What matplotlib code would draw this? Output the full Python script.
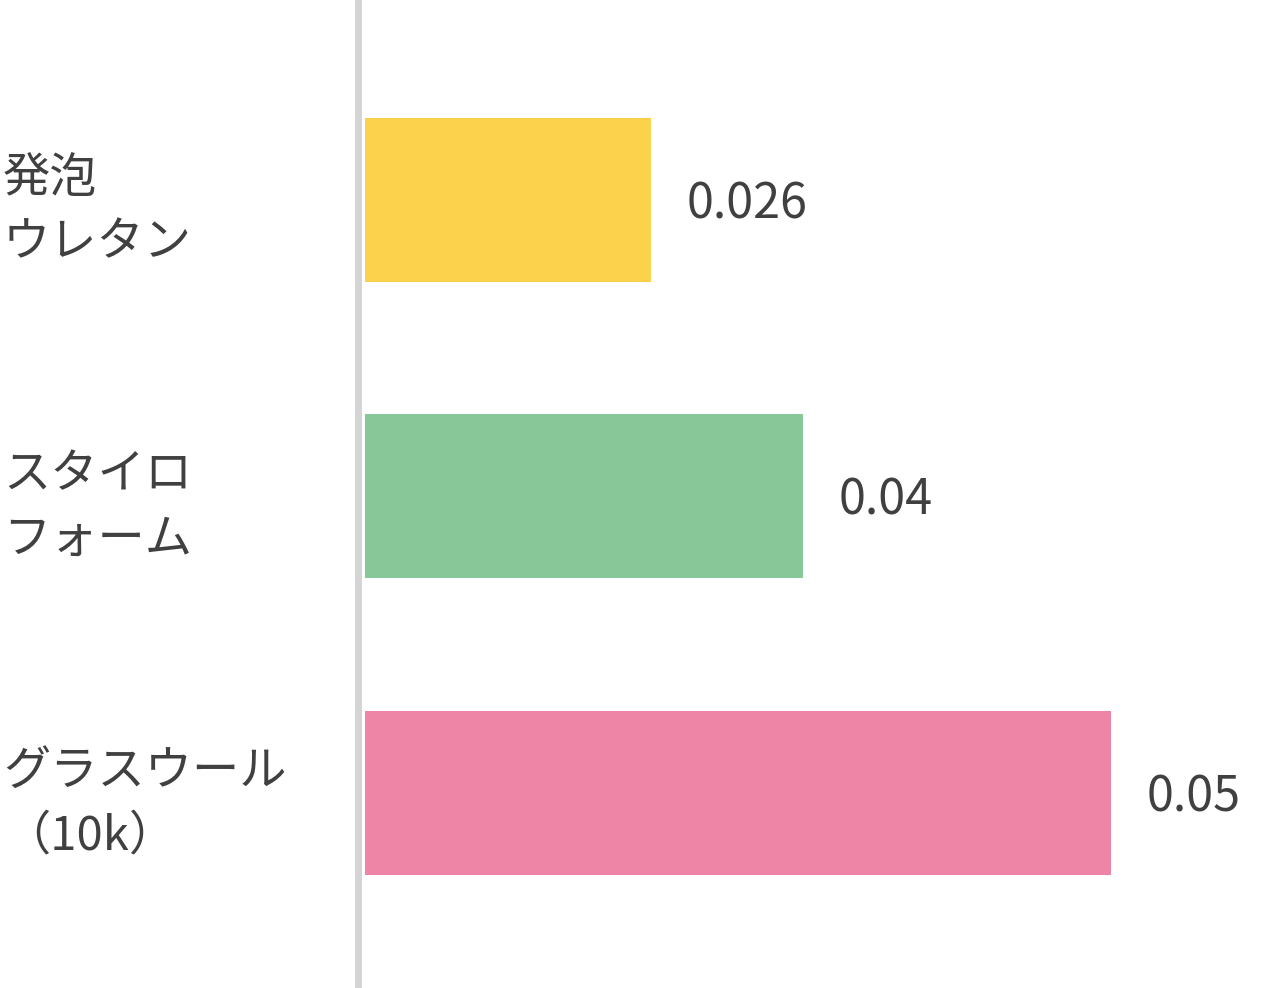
import matplotlib.pyplot as plt
from matplotlib.transforms import blended_transform_factory, ScaledTranslation

plt.rcParams['font.family'] = ['Noto Sans CJK JP', 'DejaVu Sans']

materials = ["発泡\nウレタン", "スタイロ\nフォーム", "グラスウール\n（10k）"]
value_labels = ["0.026", "0.04", "0.05"]
# bar lengths as drawn in the picture (not proportional to the labels)
bar_lengths = [28.6, 43.8, 74.6]
colors = ["#FCD14C", "#88C797", "#EE84A6"]
text_color = "#404040"

fig = plt.figure(figsize=(12.69, 9.88), dpi=100)
ax = fig.add_axes([365 / 1269, 0, 904 / 1269, 1])

ypos = range(len(materials))
ax.barh(ypos, bar_lengths, height=0.553, color=colors, align="center")

ax.set_xlim(0, 90.4)
ax.set_ylim(2.659, -0.675)

for y, v, lab in zip(ypos, bar_lengths, value_labels):
    ax.annotate(lab, (v, y), xytext=(26, -3.5), textcoords="offset points",
                ha="left", va="center", fontsize=35, color=text_color)

trans = blended_transform_factory(fig.transFigure, ax.transData)
trans = trans + ScaledTranslation(0, -8 / 72, fig.dpi_scale_trans)
for y, name in zip(ypos, materials):
    ax.text(3 / 1269, y, name, transform=trans, ha="left", va="center",
            fontsize=34, color=text_color, linespacing=1.42,
            multialignment="left")

for s in ["top", "right", "bottom"]:
    ax.spines[s].set_visible(False)
ax.spines["left"].set_position(("outward", 4.7))
ax.spines["left"].set_linewidth(5)
ax.spines["left"].set_color("#D4D4D4")
ax.set_xticks([])
ax.set_yticks([])
ax.patch.set_alpha(0)

fig.savefig("out.png", dpi=100)
